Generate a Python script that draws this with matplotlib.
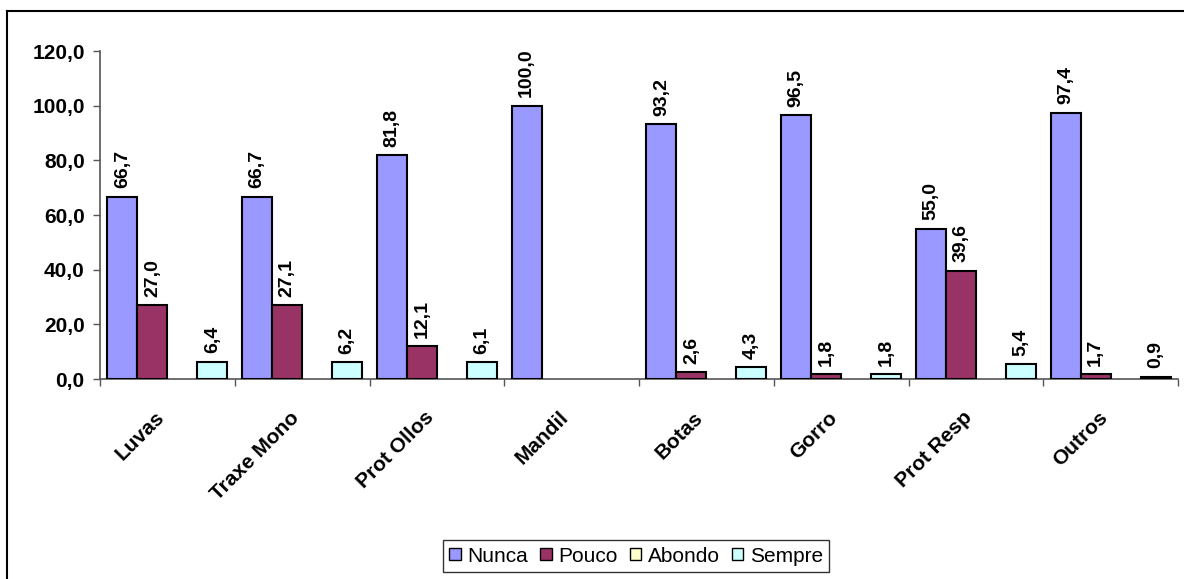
import matplotlib
matplotlib.use("Agg")
import matplotlib.pyplot as plt
import matplotlib.transforms as mtransforms
from matplotlib.lines import Line2D
from matplotlib.patches import Patch
import numpy as np

plt.rcParams['font.family'] = ['Liberation Sans', 'DejaVu Sans']

categories = ["Luvas", "Traxe Mono", "Prot Ollos", "Mandil", "Botas", "Gorro", "Prot Resp", "Outros"]
series_names = ["Nunca", "Pouco", "Abondo", "Sempre"]
nunca = [66.7, 66.7, 81.8, 100.0, 93.2, 96.5, 55.0, 97.4]
pouco = [27.0, 27.1, 12.1, None, 2.6, 1.8, 39.6, 1.7]
abondo = [None, None, None, None, None, None, None, None]
sempre = [6.4, 6.2, 6.1, None, 4.3, 1.8, 5.4, 0.9]
colors = ["#9999FF", "#993366", "#FFFFCC", "#CCFFFF"]
yticks = [0, 20, 40, 60, 80, 100, 120]

series = [nunca, pouco, abondo, sempre]

W, H = 1184, 579
fig = plt.figure(figsize=(W / 100, H / 100), dpi=100)
ax = fig.add_axes([100 / W, 1 - 379 / H, 1078 / W, 328 / H])

bw = 1 / 4.5
n = len(categories)
for s, (vals, col) in enumerate(zip(series, colors)):
    for i, v in enumerate(vals):
        if v is None:
            continue
        x = i + 0.5 + (s - 1.5) * bw
        ax.bar(x, v, width=bw, color=col, edgecolor="black", linewidth=1.5, zorder=3)
        ax.annotate(f"{v:.1f}".replace(".", ","), (x, v), xytext=(0, 6),
                    textcoords="offset points", rotation=90, ha="center", va="bottom",
                    fontsize=14, fontweight="bold")

ax.set_xlim(0, n)
ax.set_ylim(0, 120)
ax.set_yticks(yticks)
ax.set_yticklabels([f"{t:.1f}".replace(".", ",") for t in yticks], fontsize=15, fontweight="bold")
ax.set_xticks(np.arange(n + 1))
ax.set_xticklabels([])
ax.tick_params(axis="both", direction="out", length=5, color="#555555", width=1)
ax.tick_params(axis="y", pad=6)
for sp in ["top", "right"]:
    ax.spines[sp].set_visible(False)
for sp in ["left", "bottom"]:
    ax.spines[sp].set_color("#555555")
    ax.spines[sp].set_linewidth(1.2)

off = mtransforms.ScaledTranslation(-13 / 100, -29 / 100, fig.dpi_scale_trans)
for i, c in enumerate(categories):
    ax.text(i + 0.5, 0, c, transform=ax.get_xaxis_transform() + off, rotation=45,
            rotation_mode="anchor", ha="right", va="top", fontsize=15, fontweight="bold")

handles = [Patch(facecolor=c, edgecolor="black", linewidth=1) for c in colors]
leg = fig.legend(handles, series_names, loc="center", bbox_to_anchor=(636 / W, 1 - 556 / H),
                 ncol=4, fontsize=15, frameon=True, fancybox=False, edgecolor="black",
                 handlelength=0.55, handleheight=0.55, handletextpad=0.3, columnspacing=0.6,
                 borderpad=0.3)
leg.get_frame().set_linewidth(1)

# outer chart frame
fig.add_artist(Line2D([7 / W, 7 / W], [1 - 11 / H, 0], transform=fig.transFigure, color="black", linewidth=1.5))
fig.add_artist(Line2D([7 / W, 1], [1 - 11 / H, 1 - 11 / H], transform=fig.transFigure, color="black", linewidth=1.5))

fig.savefig("out.png", dpi=100)
